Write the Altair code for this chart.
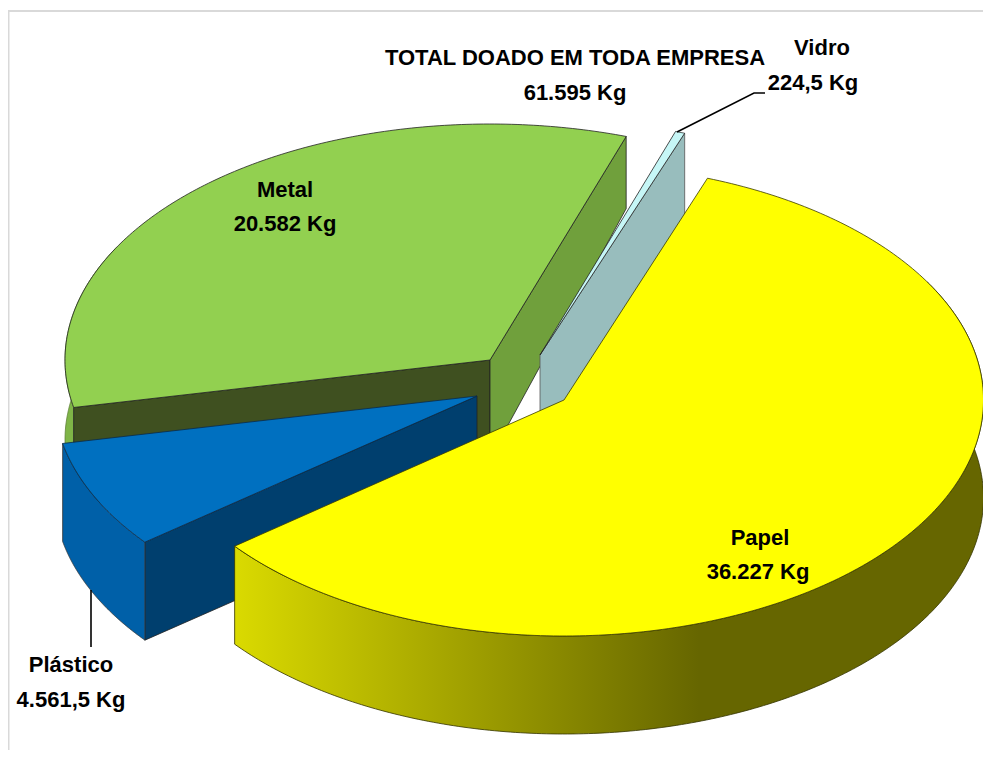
import math
import altair as alt

# --- data ---
categories = ["Papel", "Plástico", "Metal", "Vidro"]
values = [36227, 4561.5, 20582, 224.5]
value_labels = ["36.227 Kg", "4.561,5 Kg", "20.582 Kg", "224,5 Kg"]
title_lines = ["TOTAL DOADO EM TODA EMPRESA", "61.595 Kg"]

FONT = "Liberation Sans"
FS = 22
W, H = 975, 742
START = 20.0
B = 236
total = sum(values)

# slice angles come from the values
angles = {}
a0 = START
for c, v in zip(categories, values):
    a1 = a0 + v / total * 360
    angles[c] = (a0, a1)
    a0 = a1


def pt(c, ax, b, deg):
    t = math.radians(deg)
    return [c[0] + ax * math.sin(t), c[1] - b * math.cos(t)]


def arc(c, ax, deg0, deg1, n=160):
    return [pt(c, ax, B, deg0 + (deg1 - deg0) * i / n) for i in range(n + 1)]


def depth(y):
    return 72 + 26 * min(1.0, max(0.0, (y - 135) / 225))


def down(points, d=None):
    return [[p[0], p[1] + (depth(p[1]) if d is None else d)] for p in points]


def wall(points, d=None):
    lower = down(points, d)
    return points + lower[::-1]


def poly(points):
    ring = points + [points[0]]
    return {"type": "Feature", "properties": {},
            "geometry": {"type": "Polygon", "coordinates": [ring]}}


def polyline(points):
    return {"type": "Feature", "properties": {},
            "geometry": {"type": "LineString", "coordinates": points}}


def shape(feature, fill, stroke=None, sw=0.8):
    kw = {"fill": fill, "strokeWidth": sw}
    kw["stroke"] = stroke if stroke else "#222222"
    data = alt.InlineData(values={"type": "FeatureCollection", "features": [feature]},
                          format=alt.DataFormat(type="json", property="features"))
    return alt.Chart(data).mark_geoshape(**kw).project(type="identity", scale=1, translate=[-8, -8])


def line(points, color, sw):
    data = alt.InlineData(values={"type": "FeatureCollection", "features": [polyline(points)]},
                          format=alt.DataFormat(type="json", property="features"))
    return alt.Chart(data).mark_geoshape(filled=False, stroke=color, strokeWidth=sw).project(
        type="identity", scale=1, translate=[-8, -8])


def text(s, x, y):
    return alt.Chart(alt.Data(values=[{"t": s}])).mark_text(
        font=FONT, fontSize=FS, fontWeight="bold", color="#000000",
        align="center", baseline="middle"
    ).encode(x=alt.value(x - 8), y=alt.value(y - 8), text="t:N")


# centres of the exploded slices
cM, aM = (490, 360), 425
cV, aV = (540, 355), 423
cL, aL = (477, 396), 423
cP, aP = (564, 400), 419.5

layers = []
# frame
layers.append(line([[8.5, 760], [8.5, 11], [991, 11]], "#D9D9D9", 2))

# Metal
m0, m1 = angles["Metal"]
m_apex = list(cM)
m_arc = arc(cM, aM, m0, m1)
layers.append(shape(poly(wall(arc(cM, aM, m0, m0 + 40), 80)), "#7FB547", "#5c7f33"))
layers.append(shape(poly(wall([m_apex, m_arc[0]])), "#3F5020"))
layers.append(shape(poly(wall([m_apex, m_arc[-1]])), "#70A03C"))
layers.append(shape(poly([m_apex] + m_arc), "#92D050"))

# Vidro
v0, v1 = angles["Vidro"]
v_apex = list(cV)
v_arc = arc(cV, aV, v0, v1, 8)
layers.append(shape(poly(wall([v_apex, v_arc[-1]], 90)), "#98BDBD", "#555555"))
layers.append(shape(poly([v_apex] + v_arc), "#C6F6F6"))

# Plástico
l0, l1 = angles["Plástico"]
l_apex = list(cL)
l_arc = arc(cL, aL, l0, l1)
layers.append(shape(poly(wall([l_apex, l_arc[0]], 98)), "#003F6E"))
layers.append(shape(poly(wall(l_arc, 98)), "#0060A8", "#333333"))
layers.append(shape(poly([l_apex] + l_arc), "#0070C0", "#0a2b4a"))

# Papel
p0, p1 = angles["Papel"]
p_apex = list(cP)
p_arc = arc(cP, aP, p0, p1, 240)
grad = alt.Gradient(
    gradient="linear", x1=0, x2=1, y1=0, y2=0,
    stops=[alt.GradientStop(offset=0, color="#DADA00"),
           alt.GradientStop(offset=0.62, color="#666600"),
           alt.GradientStop(offset=1, color="#666600")])
layers.append(shape(poly(wall(arc(cP, aP, 60, p1, 240), 98)), grad, "#333300"))
layers.append(shape(poly([p_apex] + p_arc), "#FFFF00", "#3a3a00"))

# leader lines
layers.append(line([[677, 132], [754, 93], [765, 93]], "#000000", 1.6))
layers.append(line([[91, 590], [91, 647]], "#000000", 1.6))

# labels
layers += [
    text(title_lines[0], 575, 58), text(title_lines[1], 575, 93),
    text(categories[3], 822, 48), text(value_labels[3], 813, 83),
    text(categories[2], 285, 190), text(value_labels[2], 285, 224),
    text(categories[0], 760, 538), text(value_labels[0], 758, 572),
    text(categories[1], 71, 665), text(value_labels[1], 71, 700),
]

chart = alt.layer(*layers).properties(
    width=W, height=H, padding=0, autosize=alt.AutoSizeParams(type="none"),
    background="#FFFFFF"
).configure_view(stroke=None)

chart.save("out.html", embed_options={"renderer": "svg", "actions": False})
